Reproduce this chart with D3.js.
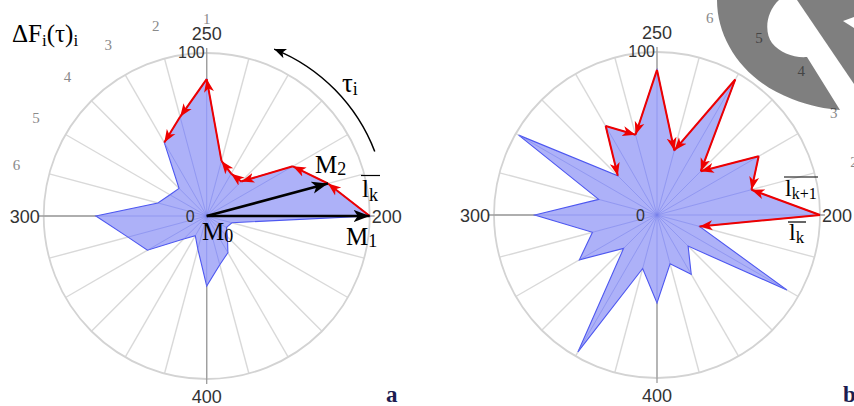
<!DOCTYPE html>
<html><head><meta charset="utf-8">
<script src="https://cdn.jsdelivr.net/npm/d3@7"></script>
<style>html,body{margin:0;padding:0;background:#fff;} svg{display:block;}</style>
</head><body>
<svg id="c" width="854" height="406"></svg>
<script>
// ---- data ----
const spokeAngles = d3.range(0, 360, 15);           // degrees, counter-clockwise from east
const seriesA = [100,77,61,30,30,35,84,63,52,24,26,31,68,50,42,20,14,21,43,31,26,18,14,16];
const seriesB = [100,60,72,38,96,41,89,51,63,34,98,37,75,41,55,29,97,34,54,31,42,27,92,27];
const angleTicks = [0, 90, 180, 270];
const angleTickLabels = ["200", "250", "300", "400"];
const radialTickLabels = ["0", "100"];
const outerLabels = ["1", "2", "3", "4", "5", "6"];
const outerAnglesA = [90, 105, 120, 135, 150, 165];
const outerAnglesB = [0, 15, 30, 45, 60, 75];
const pathA = [0, 15, 30, 45, 60, 75, 90, 105, 120];
const segmentsB = [[0,345],[0,15],[30,15],[30,45],[60,45],[60,75],[90,75],[90,105],[120,105],[120,135]];

const svg = d3.select("#c");
const defs = svg.append("defs");
defs.append("marker").attr("id","redHead").attr("markerUnits","userSpaceOnUse")
  .attr("viewBox","-13 -6 14 12").attr("refX",0).attr("refY",0)
  .attr("markerWidth",14).attr("markerHeight",12).attr("orient","auto")
  .append("path").attr("d","M0,0 L-13,-5 L-9.5,0 L-13,5 Z").attr("fill","#ee0000");
defs.append("marker").attr("id","blackHead").attr("markerUnits","userSpaceOnUse")
  .attr("viewBox","-16 -7 17 14").attr("refX",0).attr("refY",0)
  .attr("markerWidth",17).attr("markerHeight",14).attr("orient","auto")
  .append("path").attr("d","M0,0 L-16,-6 L-12,0 L-16,6 Z").attr("fill","#000");
defs.append("marker").attr("id","thinHead").attr("markerUnits","userSpaceOnUse")
  .attr("viewBox","-12 -6 13 12").attr("refX",0).attr("refY",0)
  .attr("markerWidth",13).attr("markerHeight",12).attr("orient","auto")
  .append("path").attr("d","M0,0 L-12,-5 L-9,0 L-12,5 Z").attr("fill","#000");

const R = 163;
const r = d3.scaleLinear().domain([0, 100]).range([0, R]);
const ang = d3.scaleLinear().domain([0, 360]).range([0, 2 * Math.PI]);

function drawChart(cx, cy, series, outerAngles, outerR) {
  const g = svg.append("g");
  const pt = (deg, v) => [cx + r(v) * Math.cos(ang(deg)), cy - r(v) * Math.sin(ang(deg))];
  // spokes
  g.selectAll(".spoke").data(spokeAngles).join("line")
    .attr("x1", cx).attr("y1", cy)
    .attr("x2", d => pt(d, 100)[0]).attr("y2", d => pt(d, 100)[1])
    .attr("stroke", "#d9d9d9").attr("stroke-width", 1.4);
  g.append("circle").attr("cx", cx).attr("cy", cy).attr("r", r(100))
    .attr("fill", "none").attr("stroke", "#d3d3d3").attr("stroke-width", 1.8);
  g.selectAll(".axis").data(angleTicks).join("line")
    .attr("x1", cx).attr("y1", cy)
    .attr("x2", d => pt(d, 103)[0]).attr("y2", d => pt(d, 103)[1])
    .attr("stroke", "#9c9c9c").attr("stroke-width", 1.3);
  // polygon
  const pts = spokeAngles.map((a, i) => pt(a, series[i]));
  g.append("path").attr("d", d3.line()(pts) + "Z")
    .attr("fill", "#adb1f8").attr("stroke", "#4d57f0").attr("stroke-width", 1.1);
  g.selectAll(".vline").data(pts).join("line")
    .attr("x1", cx).attr("y1", cy).attr("x2", d => d[0]).attr("y2", d => d[1])
    .attr("stroke", "#7a83ec").attr("stroke-width", 0.9).attr("opacity", 0.6);
  // angle tick labels
  const lab = g.append("g").attr("font-family", "Liberation Sans, Arial, sans-serif").attr("fill", "#333").attr("font-size", 18);
  lab.append("text").attr("x", pt(90,100)[0]).attr("y", cy - 176).attr("text-anchor", "middle").text(angleTickLabels[1]);
  lab.append("text").attr("x", pt(0,100)[0] + 2).attr("y", cy + 7).attr("text-anchor", "start").text(angleTickLabels[0]);
  lab.append("text").attr("x", pt(180,100)[0] - 4).attr("y", cy + 7).attr("text-anchor", "end").text(angleTickLabels[2]);
  lab.append("text").attr("x", pt(270,100)[0]).attr("y", cy + 187).attr("text-anchor", "middle").text(angleTickLabels[3]);
  lab.append("text").attr("x", cx - 2).attr("y", cy - 158).attr("text-anchor", "end").attr("font-size", 16).text(radialTickLabels[1]);
  lab.append("text").attr("x", cx - 12).attr("y", cy + 6).attr("text-anchor", "end").attr("font-size", 16).text(radialTickLabels[0]);
  // outer numbers
  g.selectAll(".outer").data(outerLabels).join("text")
    .attr("x", (d, i) => cx + outerR * Math.cos(ang(outerAngles[i])))
    .attr("y", (d, i) => cy - outerR * Math.sin(ang(outerAngles[i])) + 5)
    .attr("text-anchor", "middle").attr("font-family", "Liberation Serif, serif")
    .attr("font-size", 15).attr("fill", "#8a8a8a").text(d => d);
  return { g, pt };
}

// ---- chart a ----
const A = drawChart(206.7, 216, seriesA, outerAnglesA, 197);
const idxA = a => spokeAngles.indexOf(a);
for (let k = 1; k < pathA.length; k++) {
  const p0 = A.pt(pathA[k-1], seriesA[idxA(pathA[k-1])]);
  const p1 = A.pt(pathA[k], seriesA[idxA(pathA[k])]);
  A.g.append("line").attr("x1", p0[0]).attr("y1", p0[1]).attr("x2", p1[0]).attr("y2", p1[1])
    .attr("stroke", "#ee0000").attr("stroke-width", 2).attr("marker-end", "url(#redHead)");
}
[0, 15].forEach(a => {
  const p = A.pt(a, seriesA[idxA(a)]);
  A.g.append("line").attr("x1", 206.7).attr("y1", 216).attr("x2", p[0]).attr("y2", p[1])
    .attr("stroke", "#000").attr("stroke-width", 2.6).attr("marker-end", "url(#blackHead)");
});
// curved tau arrow
{
  const cx = 206.7, cy = 216, rr = 180;
  const arc = d3.arc().innerRadius(rr).outerRadius(rr);
  const a0 = Math.PI / 2 - ang(21), a1 = Math.PI / 2 - ang(68);
  const p0 = [cx + rr * Math.cos(ang(21)), cy - rr * Math.sin(ang(21))];
  const p1 = [cx + rr * Math.cos(ang(68)), cy - rr * Math.sin(ang(68))];
  svg.append("path").attr("d", `M${p0[0]},${p0[1]} A${rr},${rr} 0 0 0 ${p1[0]},${p1[1]}`)
    .attr("fill", "none").attr("stroke", "#000").attr("stroke-width", 1.5).attr("marker-end", "url(#thinHead)");
}

// ---- chart b ----
const B = drawChart(657, 215, seriesB, outerAnglesB, 204);
const idxB = a => spokeAngles.indexOf(a);
segmentsB.forEach(([s, e]) => {
  const p0 = B.pt(s, seriesB[idxB(s)]);
  const p1 = B.pt(e, seriesB[idxB(e)]);
  B.g.append("line").attr("x1", p0[0]).attr("y1", p0[1]).attr("x2", p1[0]).attr("y2", p1[1])
    .attr("stroke", "#ee0000").attr("stroke-width", 2).attr("marker-end", "url(#redHead)");
});
// watermark-like grey shape
svg.append("path")
  .attr("d", "M717,0 C717,42 746,82 792,99 C810,106 826,109 840,110 L807,57 C794,58 780,53 772,43 C764,32 766,12 779,0 Z")
  .attr("fill", "rgba(0,0,0,0.5)");
svg.append("path").attr("d", "M797,0 L854,0 L854,84 Z").attr("fill", "rgba(0,0,0,0.5)");
svg.append("path").attr("d", "M843,21 L854,17 L854,28 Z").attr("fill", "#fff");

// ---- annotation text ----
const serif = "Liberation Serif, Times New Roman, serif";
function sub(x, y, main, subs, size, subSize, dy) {
  const t = svg.append("text").attr("x", x).attr("y", y).attr("font-family", serif).attr("font-size", size).attr("fill", "#000");
  t.append("tspan").text(main);
  t.append("tspan").attr("font-size", subSize).attr("dy", dy).text(subs);
  return t;
}
{
  const t = svg.append("text").attr("x", 12).attr("y", 42).attr("font-family", serif).attr("font-size", 25);
  t.append("tspan").text("ΔF");
  t.append("tspan").attr("font-size", 17).attr("dy", 4).text("i");
  t.append("tspan").attr("dy", -4).text("(τ)");
  t.append("tspan").attr("font-size", 17).attr("dy", 4).text("i");
}
sub(202, 240, "M", "0", 25, 18, 2);
sub(346, 245, "M", "1", 25, 18, 2);
sub(315, 173, "M", "2", 25, 18, 2);
sub(342, 92, "τ", "i", 27, 18, 3);
sub(362, 197, "l", "k", 25, 18, 4);
svg.append("line").attr("x1", 361).attr("x2", 380).attr("y1", 175.5).attr("y2", 175.5).attr("stroke", "#000").attr("stroke-width", 1.2);
sub(785, 196, "l", "k+1", 24, 16, 3);
svg.append("line").attr("x1", 784).attr("x2", 818).attr("y1", 177).attr("y2", 177).attr("stroke", "#000").attr("stroke-width", 1.2);
sub(789, 240, "l", "k", 24, 17, 3);
svg.append("line").attr("x1", 788).attr("x2", 806).attr("y1", 222).attr("y2", 222).attr("stroke", "#000").attr("stroke-width", 1.2);
svg.append("text").attr("x", 386).attr("y", 402).attr("font-family", serif).attr("font-weight", "bold").attr("font-size", 23).attr("fill", "#1c1c50").text("a");
svg.append("text").attr("x", 843).attr("y", 402).attr("font-family", serif).attr("font-weight", "bold").attr("font-size", 23).attr("fill", "#1c1c50").text("b");
</script>
</body></html>
